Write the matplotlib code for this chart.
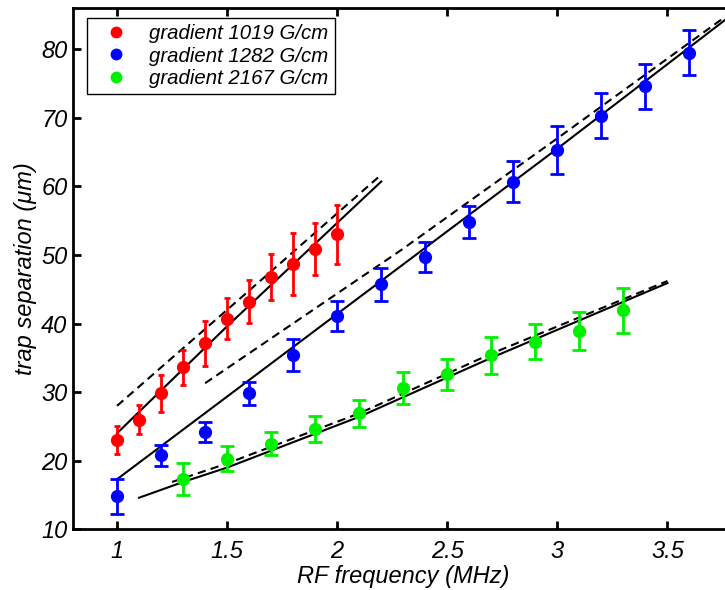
import matplotlib
matplotlib.use("Agg")
import matplotlib.pyplot as plt

plt.rcParams['font.family'] = ['Liberation Sans', 'DejaVu Sans']
plt.rcParams['font.style'] = 'italic'

# -----------------------------------------------
# Data
# -----------------------------------------------
labels = ["gradient 1019 G/cm", "gradient 1282 G/cm", "gradient 2167 G/cm"]
colors = ["#ff0000", "#0000ff", "#00f000"]

red_x = [1.0, 1.1, 1.2, 1.3, 1.4, 1.5, 1.6, 1.7, 1.8, 1.9, 2.0]
red_y = [23.0, 26.0, 29.8, 33.6, 37.1, 40.7, 43.2, 46.8, 48.7, 50.9, 53.0]
red_err = [2.0, 2.1, 2.7, 2.5, 3.3, 3.0, 3.1, 3.4, 4.5, 3.8, 4.3]

blue_x = [1.0, 1.2, 1.4, 1.6, 1.8, 2.0, 2.2, 2.4, 2.6, 2.8, 3.0, 3.2, 3.4, 3.6]
blue_y = [14.8, 20.8, 24.2, 29.8, 35.4, 41.1, 45.7, 49.7, 54.8, 60.7, 65.3, 70.3, 74.6, 79.5]
blue_err = [2.5, 1.5, 1.45, 1.7, 2.3, 2.2, 2.35, 2.15, 2.35, 3.0, 3.5, 3.25, 3.25, 3.3]

green_x = [1.3, 1.5, 1.7, 1.9, 2.1, 2.3, 2.5, 2.7, 2.9, 3.1, 3.3]
green_y = [17.3, 20.3, 22.5, 24.6, 26.9, 30.6, 32.6, 35.4, 37.35, 38.9, 41.9]
green_err = [2.3, 1.85, 1.65, 1.9, 2.0, 2.3, 2.3, 2.7, 2.55, 2.8, 3.3]

# fitted (solid) and model (dashed) curves
red_fit_x = [1.0, 1.5, 2.2]
red_fit_y = [24.0, 39.6, 60.7]
red_model_x = [1.0, 1.6, 2.2]
red_model_y = [28.0, 44.8, 61.7]

blue_fit_x = [1.0, 2.0, 3.0, 3.8]
blue_fit_y = [17.3, 41.4, 65.5, 85.2]
blue_model_x = [1.4, 2.29, 3.0, 3.8]
blue_model_y = [31.3, 50.7, 67.0, 85.6]

green_fit_x = [1.1, 1.3, 1.5, 2.1, 2.7, 3.5]
green_fit_y = [14.6, 16.9, 19.0, 26.4, 35.0, 45.9]
green_model_x = [1.25, 1.5, 2.1, 2.7, 3.5]
green_model_y = [16.9, 19.6, 26.9, 35.6, 46.2]

xticks = [1, 1.5, 2, 2.5, 3, 3.5]
xtick_labels = ["1", "1.5", "2", "2.5", "3", "3.5"]
yticks = [10, 20, 30, 40, 50, 60, 70, 80]

# -----------------------------------------------
# Plot
# -----------------------------------------------
fig = plt.figure(figsize=(7.25, 5.9), dpi=100)
ax = fig.add_axes([0.1007, 0.1029, 0.911, 0.8835])

ax.plot(red_fit_x, red_fit_y, color="black", lw=1.5)
ax.plot(red_model_x, red_model_y, color="black", lw=1.5, ls=(0, (4, 2.5)))
ax.plot(blue_fit_x, blue_fit_y, color="black", lw=1.5)
ax.plot(blue_model_x, blue_model_y, color="black", lw=1.5, ls=(0, (4, 2.5)))
ax.plot(green_fit_x, green_fit_y, color="black", lw=1.5)
ax.plot(green_model_x, green_model_y, color="black", lw=1.5, ls=(0, (4, 2.5)))

ax.errorbar(red_x, red_y, yerr=red_err, fmt="o", color=colors[0], ms=8.5,
            elinewidth=2, capsize=2, capthick=2)
ax.errorbar(blue_x, blue_y, yerr=blue_err, fmt="o", color=colors[1], ms=8.5,
            elinewidth=2, capsize=5, capthick=2)
ax.errorbar(green_x, green_y, yerr=green_err, fmt="o", color=colors[2], ms=8.5,
            elinewidth=2, capsize=5, capthick=2)

# legend with markers only
handles = []
for c, lab in zip(colors, labels):
    h, = ax.plot([], [], "o", color=c, ms=7.5, label=lab)
    handles.append(h)
leg = ax.legend(handles=handles, loc="upper left", bbox_to_anchor=(0.021, 0.981),
                borderaxespad=0, fontsize=14.7, frameon=True, fancybox=False,
                framealpha=1, edgecolor="black", handletextpad=0.45,
                borderpad=0.3, labelspacing=0.17, handlelength=2.3)
leg.get_frame().set_linewidth(1.0)

ax.set_xlim(0.8, 3.8)
ax.set_ylim(10, 86)
ax.set_xticks(xticks)
ax.set_xticklabels(xtick_labels)
ax.set_yticks(yticks)
ax.tick_params(direction="in", length=6, width=2, labelsize=17, top=True,
               right=True)
ax.tick_params(axis="x", pad=8)
ax.tick_params(axis="y", pad=4)
for s in ax.spines.values():
    s.set_linewidth(2)

ax.set_xlabel("RF frequency (MHz)", fontsize=17, labelpad=1)
ax.set_ylabel("trap separation (\u03bcm)", fontsize=17, labelpad=3)

fig.savefig("out.png", dpi=100)
